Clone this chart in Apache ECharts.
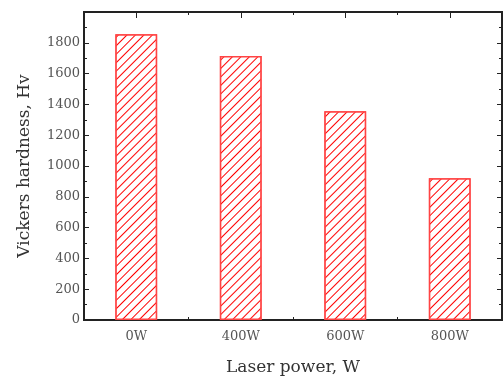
<!DOCTYPE html>
<html>
<head>
<meta charset="utf-8">
<script src="https://cdn.jsdelivr.net/npm/echarts@6/dist/echarts.min.js"></script>
<style>
  html, body { margin: 0; padding: 0; background: #fff; }
  #chart { width: 504px; height: 381px; }
</style>
</head>
<body>
<div id="chart"></div>
<script>
var categories = ['0W', '400W', '600W', '800W'];
var hardness = [1855, 1715, 1355, 920];
var yMin = 0, yMax = 2000, yStep = 200;

var font = '"DejaVu Serif", "Liberation Serif", serif';
var axisLine = { show: true, lineStyle: { color: '#222', width: 2 } };

function xAx(pos, centered, len) {
    return {
        type: 'category', data: categories, position: pos,
        axisLine: axisLine,
        axisTick: { show: true, inside: true, length: len, alignWithLabel: centered, lineStyle: { color: '#222', width: 1 } },
        axisLabel: { show: pos === 'bottom' && centered, color: '#555', fontFamily: font, fontSize: 13, margin: 10 },
        splitLine: { show: false }
    };
}

function yAx(pos) {
    return {
        type: 'value', min: yMin, max: yMax, interval: yStep, position: pos,
        axisLine: axisLine,
        axisTick: { show: true, inside: true, length: 5, lineStyle: { color: '#222', width: 1 } },
        minorTick: { show: true, splitNumber: 2, length: 3, lineStyle: { color: '#222', width: 1 } },
        axisLabel: {
            show: pos === 'left', color: '#555', fontFamily: font, fontSize: 13, margin: 4,
            formatter: function (v) { return v >= yMax ? '' : v; }
        },
        splitLine: { show: false }
    };
}

var xLeft = xAx('bottom', true, 6);
var yLeft = yAx('left');
xLeft.name = 'Laser power, W';
xLeft.nameLocation = 'middle';
xLeft.nameGap = 39;
xLeft.nameTextStyle = { color: '#333', fontFamily: font, fontSize: 17 };
yLeft.name = 'Vickers hardness, Hv';
yLeft.nameLocation = 'middle';
yLeft.nameGap = 51;
yLeft.nameTextStyle = { color: '#333', fontFamily: font, fontSize: 17 };

var option = {
    animation: false,
    aria: { enabled: false },
    grid: { left: 84, right: 2, top: 12, bottom: 58 },
    xAxis: [xLeft, xAx('bottom', false, 3), xAx('top', true, 6), xAx('top', false, 3)],
    yAxis: [yLeft, yAx('right')],
    series: [{
        type: 'bar',
        data: hardness,
        barWidth: '40%',
        itemStyle: {
            color: '#ffffff',
            borderColor: '#ff4444',
            borderWidth: 1.5,
            // "/" hatching
            decal: {
                symbol: 'rect',
                symbolSize: 1,
                color: '#ff0000',
                backgroundColor: '#ffffff',
                dashArrayX: [1, 0],
                dashArrayY: [1, 5],
                rotation: -Math.PI / 4
            }
        }
    }]
};

var chart = echarts.init(document.getElementById('chart'));
chart.setOption(option);
window.onresize = chart.resize;
</script>
</body>
</html>
